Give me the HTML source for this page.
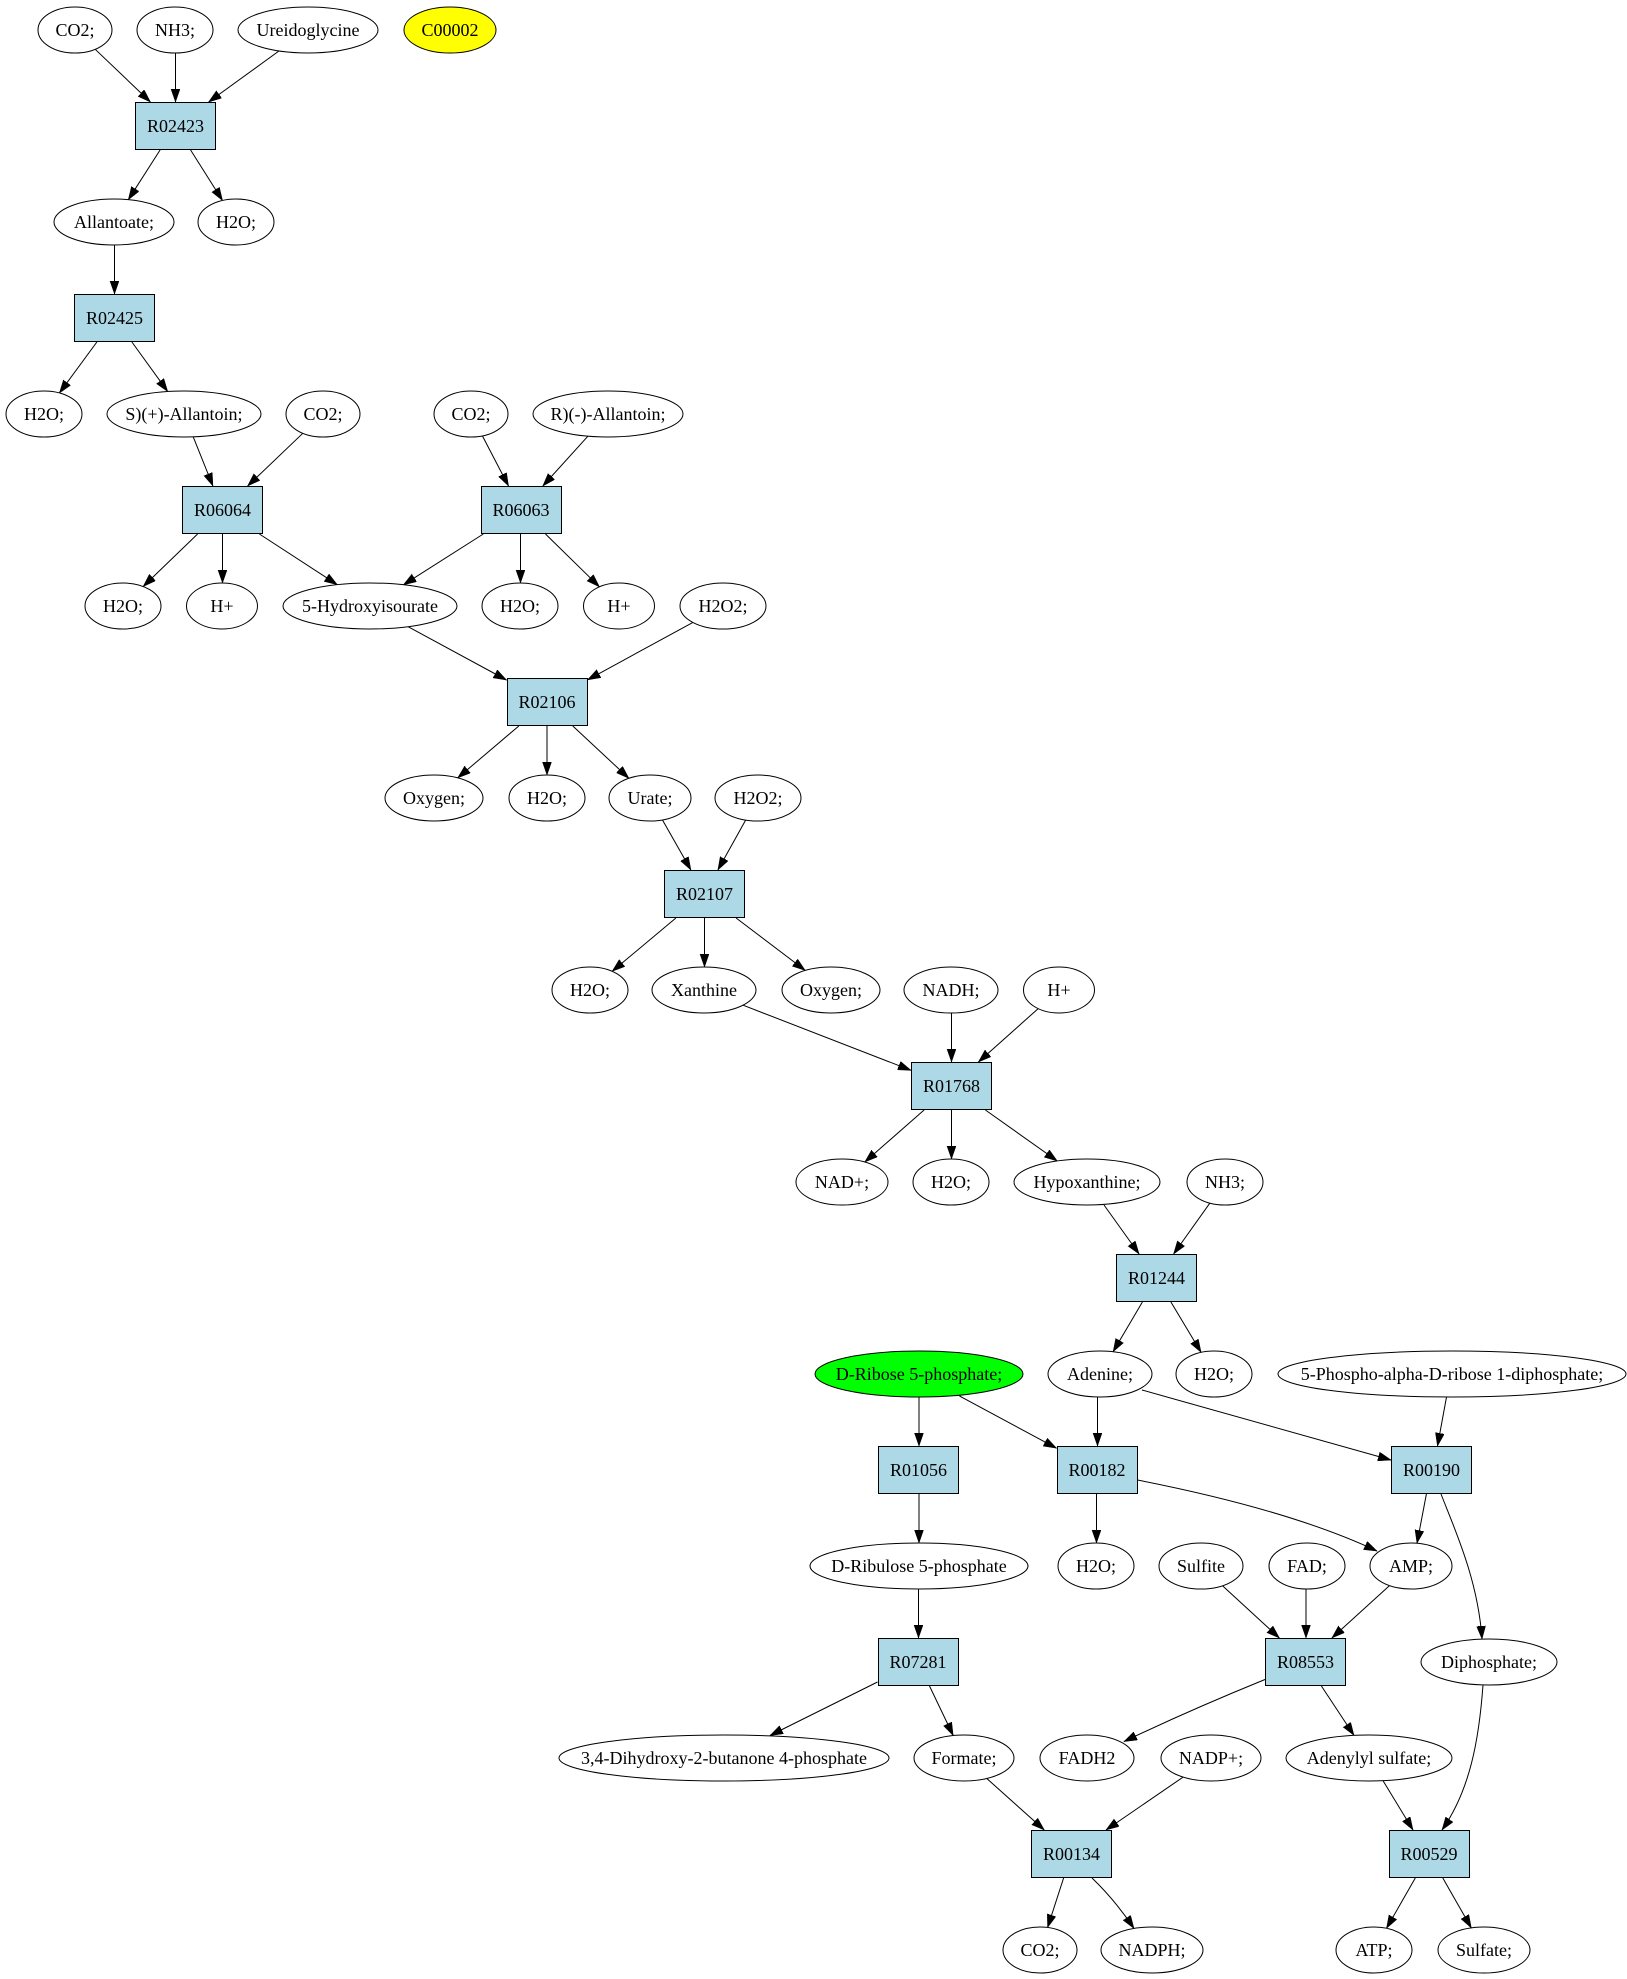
<!DOCTYPE html>
<html><head><meta charset="utf-8"><style>
html,body{margin:0;padding:0;background:#fff;}
svg{display:block;}
text{font-family:"Liberation Serif","Times New Roman",serif;font-size:18px;fill:#000;text-anchor:middle;}
.e{fill:#fff;stroke:#000;stroke-width:1;}
.b{fill:#add8e6;stroke:#000;stroke-width:1;}
.l{fill:none;stroke:#000;stroke-width:1;marker-end:url(#ah);}
</style></head><body>
<svg width="1627" height="1979" viewBox="0 0 1627 1979" xmlns="http://www.w3.org/2000/svg">
<defs>
<marker id="ah" markerUnits="userSpaceOnUse" markerWidth="14" markerHeight="10" refX="13" refY="4.5" orient="auto">
<path d="M0,0 L13,4.5 L0,9 z" fill="#000" stroke="#000" stroke-width="0.5"/>
</marker>
</defs>

<!-- edges -->
<g>
<line class="l" x1="95.2" y1="49.3" x2="150.4" y2="102"/>
<line class="l" x1="175.5" y1="53" x2="175.5" y2="102"/>
<line class="l" x1="279.1" y1="50.9" x2="208.6" y2="102"/>
<line class="l" x1="160.1" y1="150" x2="128.3" y2="199.7"/>
<line class="l" x1="190.6" y1="150" x2="222.5" y2="200.5"/>
<line class="l" x1="114.5" y1="245" x2="114.5" y2="294"/>
<line class="l" x1="96.9" y1="342" x2="59.4" y2="393"/>
<line class="l" x1="131.9" y1="342" x2="167.7" y2="391.5"/>
<line class="l" x1="193.2" y1="436.8" x2="212.9" y2="486"/>
<line class="l" x1="302.8" y1="433.3" x2="247.6" y2="486"/>
<line class="l" x1="482.4" y1="435.9" x2="508.5" y2="486"/>
<line class="l" x1="587.9" y1="436.2" x2="542.8" y2="486"/>
<line class="l" x1="197.6" y1="534" x2="143.2" y2="586.5"/>
<line class="l" x1="222.5" y1="534" x2="222.5" y2="583"/>
<line class="l" x1="259.4" y1="534" x2="337.3" y2="584.7"/>
<line class="l" x1="483.3" y1="534" x2="403.4" y2="584.8"/>
<line class="l" x1="520.5" y1="534" x2="520.5" y2="583"/>
<line class="l" x1="545.5" y1="534" x2="599.4" y2="586.8"/>
<line class="l" x1="408.1" y1="626.7" x2="506.5" y2="680"/>
<line class="l" x1="692.9" y1="622.4" x2="587.5" y2="679.9"/>
<line class="l" x1="518.8" y1="726" x2="457.7" y2="777.9"/>
<line class="l" x1="547" y1="726" x2="547" y2="775"/>
<line class="l" x1="572.8" y1="726" x2="628.9" y2="778.3"/>
<line class="l" x1="662.4" y1="819.9" x2="690.9" y2="870"/>
<line class="l" x1="745.7" y1="820" x2="717.9" y2="870"/>
<line class="l" x1="675.9" y1="918" x2="612.2" y2="971.3"/>
<line class="l" x1="704.5" y1="918" x2="704.5" y2="967"/>
<line class="l" x1="736.1" y1="918" x2="805.2" y2="970.4"/>
<line class="l" x1="743.1" y1="1005.2" x2="911" y2="1070.3"/>
<line class="l" x1="951.5" y1="1013" x2="951.5" y2="1062"/>
<line class="l" x1="1038.2" y1="1008.6" x2="978.4" y2="1062"/>
<line class="l" x1="924.1" y1="1110" x2="864.8" y2="1162"/>
<line class="l" x1="951.5" y1="1110" x2="951.5" y2="1159"/>
<line class="l" x1="985.4" y1="1110" x2="1057.3" y2="1161"/>
<line class="l" x1="1104" y1="1205" x2="1139.1" y2="1254"/>
<line class="l" x1="1209.9" y1="1203.1" x2="1173.6" y2="1254"/>
<line class="l" x1="1142.4" y1="1302" x2="1113.1" y2="1351.7"/>
<line class="l" x1="1170.9" y1="1302" x2="1201.1" y2="1352.4"/>
<line class="l" x1="919" y1="1397" x2="919" y2="1446"/>
<line class="l" x1="959.5" y1="1396" x2="1056.5" y2="1448.2"/>
<line class="l" x1="1097.5" y1="1397" x2="1097.5" y2="1446"/>
<line class="l" x1="1142" y1="1390" x2="1391" y2="1460"/>
<line class="l" x1="1446.5" y1="1397" x2="1437.5" y2="1446"/>
<line class="l" x1="919" y1="1494" x2="919" y2="1543"/>
<line class="l" x1="1096.5" y1="1494" x2="1096.5" y2="1543"/>
<path class="l" d="M1137.5,1480 Q1290,1510 1377,1551"/>
<line class="l" x1="1426.4" y1="1494" x2="1417" y2="1543.2"/>
<path class="l" d="M1441,1494 C1455,1530 1478,1580 1482,1639"/>
<line class="l" x1="918.5" y1="1589" x2="918.5" y2="1638"/>
<line class="l" x1="1222.5" y1="1585.8" x2="1279.4" y2="1638"/>
<line class="l" x1="1306" y1="1589" x2="1306" y2="1638"/>
<line class="l" x1="1389.5" y1="1585.6" x2="1331.9" y2="1638"/>
<line class="l" x1="877.5" y1="1682" x2="770" y2="1735.5"/>
<line class="l" x1="929.5" y1="1686" x2="953.2" y2="1735.5"/>
<path class="l" d="M1265,1679.5 Q1190,1710 1124,1741.5"/>
<line class="l" x1="1321.4" y1="1686" x2="1354" y2="1735.4"/>
<line class="l" x1="986.8" y1="1778.5" x2="1044.3" y2="1830"/>
<line class="l" x1="1183.1" y1="1777.1" x2="1106" y2="1830"/>
<line class="l" x1="1383.2" y1="1781" x2="1413" y2="1830"/>
<path class="l" d="M1483,1685 C1479,1740 1470,1790 1442,1830"/>
<line class="l" x1="1063.6" y1="1878" x2="1047.6" y2="1927.5"/>
<path class="l" d="M1092,1878 Q1115,1900 1134,1928.5"/>
<line class="l" x1="1415.3" y1="1878" x2="1386.5" y2="1928.3"/>
<line class="l" x1="1442.8" y1="1878" x2="1471.3" y2="1927.9"/>
</g>

<!-- nodes -->
<g>
<!-- row 0 -->
<ellipse class="e" cx="75" cy="30" rx="37" ry="23"/><text x="75" y="36">CO2;</text>
<ellipse class="e" cx="175" cy="30" rx="38" ry="23"/><text x="175" y="36">NH3;</text>
<ellipse class="e" cx="308" cy="30" rx="70" ry="23"/><text x="308" y="36">Ureidoglycine</text>
<ellipse class="e" cx="450" cy="30" rx="46" ry="23" style="fill:#ffff00"/><text x="450" y="36">C00002</text>
<!-- row 1 -->
<rect class="b" x="135.5" y="102.5" width="80" height="47"/><text x="175.5" y="132">R02423</text>
<!-- row 2 -->
<ellipse class="e" cx="114" cy="222" rx="60" ry="23"/><text x="114" y="228">Allantoate;</text>
<ellipse class="e" cx="236" cy="222" rx="38" ry="23"/><text x="236" y="228">H2O;</text>
<!-- row 3 -->
<rect class="b" x="74.5" y="294.5" width="80" height="47"/><text x="114.5" y="324">R02425</text>
<!-- row 4 -->
<ellipse class="e" cx="44" cy="414" rx="38" ry="23"/><text x="44" y="420">H2O;</text>
<ellipse class="e" cx="184" cy="414" rx="77" ry="23"/><text x="184" y="420">S)(+)-Allantoin;</text>
<ellipse class="e" cx="323" cy="414" rx="37" ry="23"/><text x="323" y="420">CO2;</text>
<ellipse class="e" cx="471" cy="414" rx="37" ry="23"/><text x="471" y="420">CO2;</text>
<ellipse class="e" cx="608" cy="414" rx="75" ry="23"/><text x="608" y="420">R)(-)-Allantoin;</text>
<!-- row 5 -->
<rect class="b" x="182.5" y="486.5" width="80" height="47"/><text x="222.5" y="516">R06064</text>
<rect class="b" x="481.5" y="486.5" width="80" height="47"/><text x="521" y="516">R06063</text>
<!-- row 6 -->
<ellipse class="e" cx="123" cy="606" rx="38" ry="23"/><text x="123" y="612">H2O;</text>
<ellipse class="e" cx="222" cy="606" rx="35.5" ry="23"/><text x="222" y="612">H+</text>
<ellipse class="e" cx="370" cy="606" rx="87" ry="23"/><text x="370" y="612">5-Hydroxyisourate</text>
<ellipse class="e" cx="520" cy="606" rx="38" ry="23"/><text x="520" y="612">H2O;</text>
<ellipse class="e" cx="619" cy="606" rx="35.5" ry="23"/><text x="619" y="612">H+</text>
<ellipse class="e" cx="723" cy="606" rx="43" ry="23"/><text x="723" y="612">H2O2;</text>
<!-- row 7 -->
<rect class="b" x="507.5" y="678.5" width="80" height="47"/><text x="547" y="708">R02106</text>
<!-- row 8 -->
<ellipse class="e" cx="434" cy="798" rx="49" ry="23"/><text x="434" y="804">Oxygen;</text>
<ellipse class="e" cx="547" cy="798" rx="38" ry="23"/><text x="547" y="804">H2O;</text>
<ellipse class="e" cx="650" cy="798" rx="41" ry="23"/><text x="650" y="804">Urate;</text>
<ellipse class="e" cx="758" cy="798" rx="43" ry="23"/><text x="758" y="804">H2O2;</text>
<!-- row 9 -->
<rect class="b" x="664.5" y="870.5" width="80" height="47"/><text x="704.5" y="900">R02107</text>
<!-- row 10 -->
<ellipse class="e" cx="590" cy="990" rx="38" ry="23"/><text x="590" y="996">H2O;</text>
<ellipse class="e" cx="704" cy="990" rx="52" ry="23"/><text x="704" y="996">Xanthine</text>
<ellipse class="e" cx="831" cy="990" rx="49" ry="23"/><text x="831" y="996">Oxygen;</text>
<ellipse class="e" cx="951" cy="990" rx="47" ry="23"/><text x="951" y="996">NADH;</text>
<ellipse class="e" cx="1059" cy="990" rx="35.5" ry="23"/><text x="1059" y="996">H+</text>
<!-- row 11 -->
<rect class="b" x="911.5" y="1062.5" width="80" height="47"/><text x="951.5" y="1092">R01768</text>
<!-- row 12 -->
<ellipse class="e" cx="842" cy="1182" rx="46" ry="23"/><text x="842" y="1188">NAD+;</text>
<ellipse class="e" cx="951" cy="1182" rx="38" ry="23"/><text x="951" y="1188">H2O;</text>
<ellipse class="e" cx="1087" cy="1182" rx="73" ry="23"/><text x="1087" y="1188">Hypoxanthine;</text>
<ellipse class="e" cx="1225" cy="1182" rx="38" ry="23"/><text x="1225" y="1188">NH3;</text>
<!-- row 13 -->
<rect class="b" x="1116.5" y="1254.5" width="80" height="47"/><text x="1156.5" y="1284">R01244</text>
<!-- row 14 -->
<ellipse class="e" cx="919" cy="1374" rx="104" ry="23" style="fill:#00ff00"/><text x="919" y="1380">D-Ribose 5-phosphate;</text>
<ellipse class="e" cx="1100" cy="1374" rx="52" ry="23"/><text x="1100" y="1380">Adenine;</text>
<ellipse class="e" cx="1214" cy="1374" rx="38" ry="23"/><text x="1214" y="1380">H2O;</text>
<ellipse class="e" cx="1452" cy="1374" rx="174" ry="23"/><text x="1452" y="1380">5-Phospho-alpha-D-ribose 1-diphosphate;</text>
<!-- row 15 -->
<rect class="b" x="878.5" y="1446.5" width="80" height="47"/><text x="918.5" y="1476">R01056</text>
<rect class="b" x="1057.5" y="1446.5" width="80" height="47"/><text x="1097" y="1476">R00182</text>
<rect class="b" x="1391.5" y="1446.5" width="80" height="47"/><text x="1431.5" y="1476">R00190</text>
<!-- row 16 -->
<ellipse class="e" cx="919" cy="1566" rx="109" ry="23"/><text x="919" y="1572">D-Ribulose 5-phosphate</text>
<ellipse class="e" cx="1096" cy="1566" rx="38" ry="23"/><text x="1096" y="1572">H2O;</text>
<ellipse class="e" cx="1201" cy="1566" rx="42" ry="23"/><text x="1201" y="1572">Sulfite</text>
<ellipse class="e" cx="1307" cy="1566" rx="38" ry="23"/><text x="1307" y="1572">FAD;</text>
<ellipse class="e" cx="1411" cy="1566" rx="41" ry="23"/><text x="1411" y="1572">AMP;</text>
<!-- row 17 -->
<rect class="b" x="878.5" y="1638.5" width="80" height="47"/><text x="918" y="1668">R07281</text>
<rect class="b" x="1265.5" y="1638.5" width="80" height="47"/><text x="1305.5" y="1668">R08553</text>
<ellipse class="e" cx="1489" cy="1662" rx="68" ry="23"/><text x="1489" y="1668">Diphosphate;</text>
<!-- row 18 -->
<ellipse class="e" cx="724" cy="1758" rx="165" ry="23"/><text x="724" y="1764">3,4-Dihydroxy-2-butanone 4-phosphate</text>
<ellipse class="e" cx="964" cy="1758" rx="50" ry="23"/><text x="964" y="1764">Formate;</text>
<ellipse class="e" cx="1087" cy="1758" rx="47" ry="23"/><text x="1087" y="1764">FADH2</text>
<ellipse class="e" cx="1211" cy="1758" rx="50" ry="23"/><text x="1211" y="1764">NADP+;</text>
<ellipse class="e" cx="1369" cy="1758" rx="83" ry="23"/><text x="1369" y="1764">Adenylyl sulfate;</text>
<!-- row 19 -->
<rect class="b" x="1031.5" y="1830.5" width="80" height="47"/><text x="1071.5" y="1860">R00134</text>
<rect class="b" x="1389.5" y="1830.5" width="80" height="47"/><text x="1429" y="1860">R00529</text>
<!-- row 20 -->
<ellipse class="e" cx="1040" cy="1950" rx="37" ry="23"/><text x="1040" y="1956">CO2;</text>
<ellipse class="e" cx="1152" cy="1950" rx="51" ry="23"/><text x="1152" y="1956">NADPH;</text>
<ellipse class="e" cx="1374" cy="1950" rx="38" ry="23"/><text x="1374" y="1956">ATP;</text>
<ellipse class="e" cx="1484" cy="1950" rx="46" ry="23"/><text x="1484" y="1956">Sulfate;</text>
</g>
</svg>
</body></html>
